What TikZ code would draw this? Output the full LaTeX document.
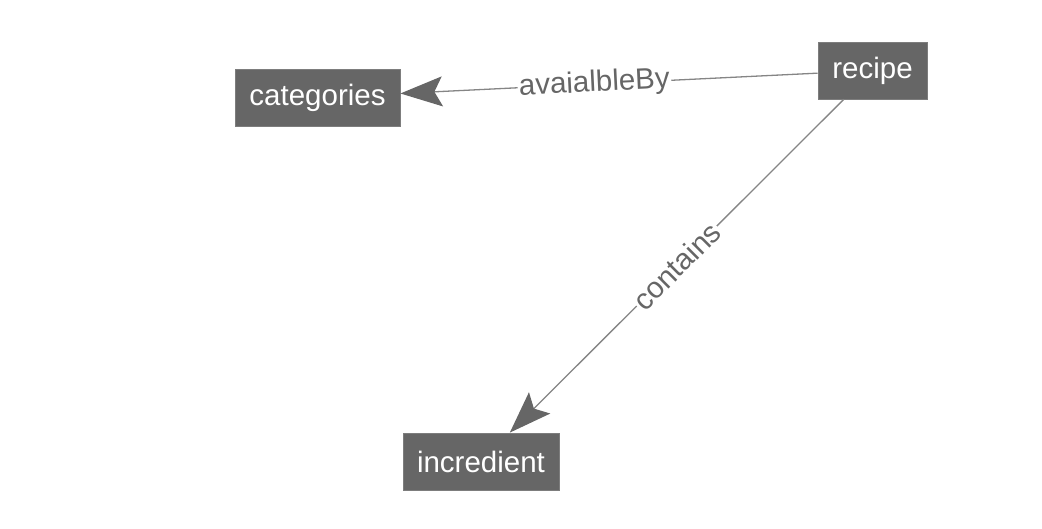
\documentclass[tikz,border=0pt]{standalone}
\usepackage{fontspec}
\setmainfont{Liberation Sans}
\usetikzlibrary{arrows.meta}
\definecolor{nodegray}{HTML}{666666}
\definecolor{edgegray}{HTML}{858585}
\definecolor{labelgray}{HTML}{666666}
\begin{document}
\begin{tikzpicture}[x=1pt,y=1pt,
  entity/.style={fill=nodegray, draw=nodegray!85!white, line width=0.8pt, text=white, minimum height=57pt, inner sep=0pt,
    font=\fontsize{29.5}{35}\selectfont},
  rel/.style={draw=edgegray, line width=1.3pt, -{Stealth[length=42pt,width=30pt,inset=8pt,color=nodegray]}},
  lbl/.style={fill=white, text=labelgray, sloped, inner sep=1.5pt, font=\fontsize{29.5}{35}\selectfont}]
\useasboundingbox (0,0) rectangle (1042,-528);
\node[entity, minimum width=165pt] (categories) at (317.5,-97.5) {categories};
\node[entity, minimum width=109pt] (recipe) at (872.5,-70.5) {recipe};
\node[entity, minimum width=156pt] (incredient) at (481,-461.5) {incredient};
\draw[rel] (recipe) -- node[lbl, pos=0.535] (lab1) {avaialbleBy} (categories);
\draw[rel] (recipe) -- node[lbl, pos=0.5] (lab2) {contains} (incredient);
\end{tikzpicture}
\end{document}
